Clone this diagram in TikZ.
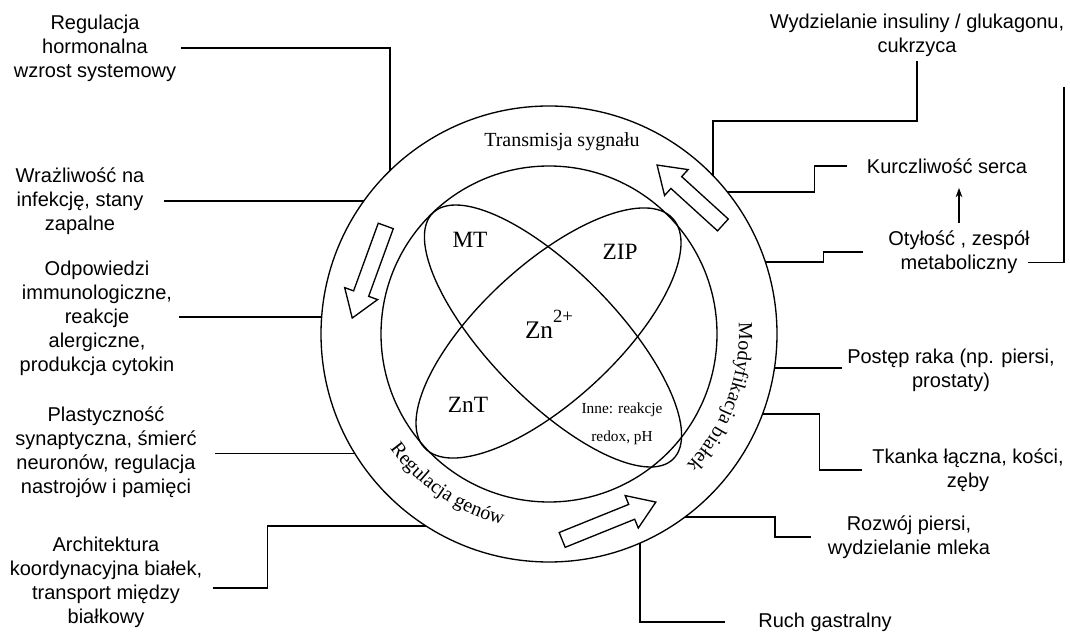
\documentclass[tikz,border=0pt]{standalone}
\usepackage{fontspec}
\setmainfont{Liberation Serif}
\setsansfont{Liberation Sans}
\usepackage{tikz}
\usetikzlibrary{arrows.meta,decorations.text}

\begin{document}
\begin{tikzpicture}[x=0.75pt, y=0.75pt, line width=1pt,
  effect/.style = {font=\sffamily\fontsize{15}{18}\selectfont, align=center},
  ring/.style = {font=\fontsize{15}{18}\selectfont},
  core/.style = {font=\fontsize{17.5}{20}\selectfont},
  pics/ringarrow/.style = {code={\draw[fill=white] (-#1,-8) -- (#1-26,-8) -- (#1-26,-17.5) -- (#1,0) -- (#1-26,17.5) -- (#1-26,8) -- (-#1,8) -- cycle;}}]
\useasboundingbox (0,0) rectangle (1070,635);
\coordinate (C) at (549,301);
\draw (C) circle[radius=228];
\draw (C) circle[radius=168];
% transportery
\draw[rotate around={-45.7:(553,299)}] (553,299) ellipse[x radius=172, y radius=64];
\draw[rotate around={42.7:(548.5,302)}] (548.5,302) ellipse[x radius=169, y radius=68];
\node[core] (mt) at (470,395) {MT};
\node[core] (zip) at (620,383) {ZIP};
\node[core, font=\fontsize{19}{20}\selectfont] (zn) at (549,311) {Zn\raisebox{12pt}{\fontsize{14}{14}\selectfont 2+}};
\node[core] (znt) at (468,230) {ZnT};
\node[font=\fontsize{11.5}{21}\selectfont, align=center] (inne) at (622,211) {Inne: reakcje\\redox, pH};
% pierscien
\node[ring] (sygn) at (562,493) {Transmisja sygnału};
\path (C) ++(200:196) coordinate (r1);
\path (C) ++(10:190) coordinate (r2);
\path[decorate, decoration={text along path, text align=center,
  text={|\fontsize{15}{18}\selectfont|Regulacja genów}}] (r1) arc[start angle=200, end angle=272, radius=196];
\path[decorate, decoration={text along path, text align=center,
  text={|\fontsize{15}{18}\selectfont|Modyfikacja białek}}] (r2) arc[start angle=10, end angle=-50, radius=190];
\pic[rotate=137.7] at (690,440) {ringarrow=44.5};
\pic[rotate=250] at (369,363) {ringarrow=49};
\pic[rotate=22] at (609,114) {ringarrow=50.5};
% punkty na okregu
\path (C) ++(134.2:228) coordinate (p1);
\path (C) ++(144.3:228) coordinate (p2);
\path (C) ++(175.7:228) coordinate (p3);
\path (C) ++(211.7:228) coordinate (p4);
\path (C) ++(237.4:228) coordinate (p5);
\path (C) ++(44.0:228) coordinate (p6);
\path (C) ++(38.5:228) coordinate (p7);
\path (C) ++(18.4:228) coordinate (p9);
\path (C) ++(-8.6:228) coordinate (p11);
\path (C) ++(-20.5:228) coordinate (p12);
\path (C) ++(-53.4:228) coordinate (p13);
\path (C) ++(-66.5:228) coordinate (p14);
\coordinate (k6) at (917,514);
\coordinate (br) at (1064,548);
% efekty
\node[effect] (hormon) at (95,587) {Regulacja\\hormonalna\\wzrost systemowy};
\node[effect] (infek) at (80,434) {Wrażliwość na\\infekcję, stany\\zapalne};
\node[effect] (immun) at (97,317) {Odpowiedzi\\immunologiczne,\\reakcje\\alergiczne,\\produkcja cytokin};
\node[effect] (plast) at (106,183) {Plastyczność\\synaptyczna, śmierć\\neuronów, regulacja\\nastrojów i pamięci};
\node[effect] (arch) at (106,53) {Architektura\\koordynacyjna białek,\\transport między\\białkowy};
\node[effect] (wydz) at (917,600) {Wydzielanie insuliny / glukagonu,\\cukrzyca};
\node[effect] (kurcz) at (947,469) {Kurczliwość serca};
\node[effect] (otyl) at (959,383) {Otyłość , zespół\\metaboliczny};
\node[effect] (post) at (951,265) {Postęp raka (np. piersi,\\prostaty)};
\node[effect] (tkan) at (968,165) {Tkanka łączna, kości,\\zęby};
\node[effect] (rozw) at (909,98) {Rozwój piersi,\\wydzielanie mleka};
\node[effect] (ruch) at (825,13) {Ruch gastralny};
\draw (hormon.east) -| (p1);
\draw ([xshift=11pt]p2 -| infek.east) -- (p2);
\draw (p3 -| immun.east) -- (p3);
\draw ([xshift=10pt]p4 -| plast.east) -- (p4);
\draw ([xshift=4pt,yshift=-4.5pt]arch.east) -- ++(55,0) |- (p5);
\draw (wydz.south) -- (k6) -| (p6);
\draw ([xshift=-11pt]kurcz.west) -- ++(-33,0) |- (p7);
\draw[-{Stealth[length=7pt,width=5pt]}, shorten >=7pt, shorten <=2pt] (otyl.north) -- (otyl.north |- kurcz.south);
\draw ([xshift=-15pt]otyl.west) -- ++(-40,0) |- (p9);
\draw ([xshift=-5pt,yshift=-8pt]otyl.east) -| (br);
\draw (p11) -- (p11 -| post.west);
\draw (p12) -- ++(57,0) |- ([xshift=-4pt]tkan.west);
\draw (p13) -- ++(90,0) |- ([xshift=-9pt]rozw.west);
\draw (p14) |- ([xshift=-21pt]ruch.west);
\end{tikzpicture}
\end{document}
